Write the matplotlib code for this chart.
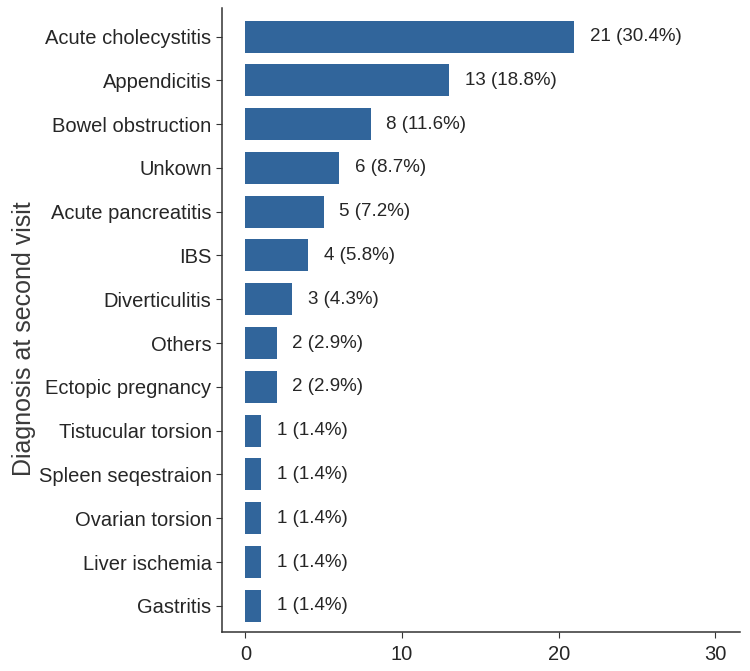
import matplotlib.pyplot as plt

plt.rcParams['font.family'] = ['Liberation Sans', 'DejaVu Sans']

diagnoses = ['Acute cholecystitis', 'Appendicitis', 'Bowel obstruction', 'Unkown',
             'Acute pancreatitis', 'IBS', 'Diverticulitis', 'Others',
             'Ectopic pregnancy', 'Tistucular torsion', 'Spleen seqestraion',
             'Ovarian torsion', 'Liver ischemia', 'Gastritis']
counts = [21, 13, 8, 6, 5, 4, 3, 2, 2, 1, 1, 1, 1, 1]
percents = [30.4, 18.8, 11.6, 8.7, 7.2, 5.8, 4.3, 2.9, 2.9, 1.4, 1.4, 1.4, 1.4, 1.4]

fig = plt.figure(figsize=(7.5, 6.71), dpi=100)
ax = fig.add_axes([0.296, 0.058, 0.691, 0.93])

ypos = list(range(len(diagnoses)))
ax.barh(ypos, counts, height=0.73, color='#31659b')
for y, c, p in zip(ypos, counts, percents):
    ax.text(c + 1, y, f'{c} ({p}%)', va='center', ha='left', fontsize=13.5, color='#262626')

ax.set_yticks(ypos)
ax.set_yticklabels(diagnoses)
ax.set_ylim(len(diagnoses) - 0.4, -0.65)
ax.set_xlim(-1.5, 31.6)
ax.set_xticks([0, 10, 20, 30])

for s in ['top', 'right']:
    ax.spines[s].set_visible(False)
for s in ['left', 'bottom']:
    ax.spines[s].set_color('#333333')
    ax.spines[s].set_linewidth(1.1)
ax.tick_params(axis='both', labelsize=14.5, colors='#333333', labelcolor='#262626', length=4)
ax.tick_params(axis='x', pad=5)
ax.set_ylabel('Diagnosis at second visit', fontsize=18, color='#3a3a3a', labelpad=2)
ax.yaxis.label.set_y(0.47)

fig.savefig('out.png', dpi=100)
